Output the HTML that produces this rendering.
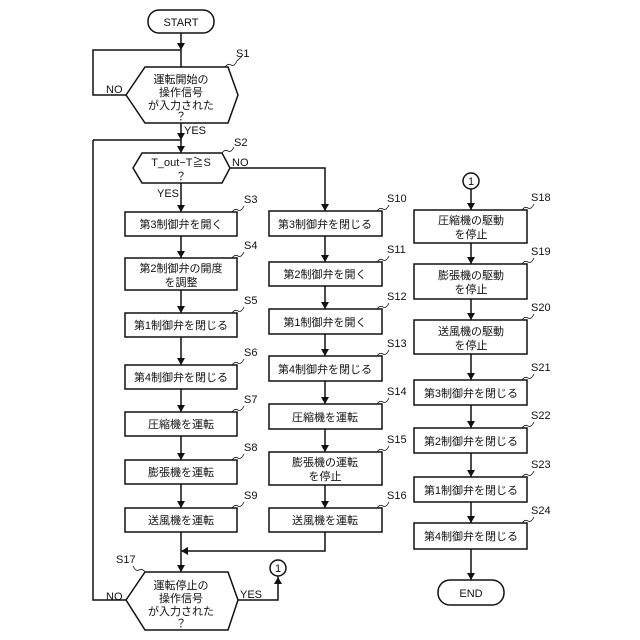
<!DOCTYPE html>
<html><head><meta charset="utf-8"><style>body{margin:0;background:#fff}svg{display:block}text{font-family:"Liberation Sans","Noto Sans CJK JP",sans-serif;font-size:11px;fill:#111}</style></head><body>
<svg width="640" height="640" viewBox="0 0 640 640" xmlns="http://www.w3.org/2000/svg">
<g stroke="#111" stroke-width="1.5" fill="none">
<rect x="148" y="10" width="66" height="23" rx="11" fill="#fff"/>
<path d="M126,95 L145,67 L228,67 L238,95 L228,123 L145,123 Z"/>
<path d="M133,168 L142,153 L222,153 L230,168 L222,183 L142,183 Z"/>
<path d="M126,600 L145,572 L228,572 L238,600 L228,630 L145,630 Z"/>
<rect x="125" y="212" width="112" height="24"/><rect x="125" y="258" width="112" height="32"/><rect x="125" y="313" width="112" height="24"/><rect x="125" y="365" width="112" height="24"/><rect x="125" y="412" width="112" height="24"/><rect x="125" y="460" width="112" height="24"/><rect x="125" y="508" width="112" height="24"/>
<rect x="269" y="211" width="113" height="25"/><rect x="269" y="262" width="113" height="24"/><rect x="269" y="309" width="113" height="25"/><rect x="269" y="356" width="113" height="25"/><rect x="269" y="404" width="113" height="25"/><rect x="269" y="452" width="113" height="33"/><rect x="269" y="508" width="113" height="24"/>
<rect x="414" y="210" width="113" height="33"/><rect x="414" y="264" width="113" height="35"/><rect x="414" y="320" width="113" height="34"/><rect x="414" y="380" width="113" height="25"/><rect x="414" y="428" width="113" height="25"/><rect x="414" y="477" width="113" height="25"/><rect x="414" y="523" width="113" height="26"/>
<rect x="438" y="580" width="66" height="25" rx="12"/>
<circle cx="471" cy="181" r="8"/><circle cx="278" cy="568" r="8"/>
<path d="M181,33V67M181,123V153M181,183V212M181,236V258M181,290V313M181,337V365M181,389V412M181,436V460M181,484V508M181,532V572"/>
<path d="M126,95H93V50H181M93,140V600H126M93,140H181M230,168H325V211"/>
<path d="M325,236V262M325,286V309M325,334V356M325,381V404M325,429V452M325,485V508M325,532V551H181"/>
<path d="M238,600H278V576"/>
<path d="M471,189V210M471,243V264M471,299V320M471,354V380M471,405V428M471,453V477M471,502V523M471,549V580"/>
</g>
<g fill="#111">
<path d="M177,43h8l-4,7z M177,146h8l-4,7z M177,205h8l-4,7z M177,251h8l-4,7z M177,306h8l-4,7z M177,358h8l-4,7z M177,405h8l-4,7z M177,453h8l-4,7z M177,501h8l-4,7z M177,565h8l-4,7z M177,133h8l-4,7z"/>
<path d="M321,204h8l-4,7z M321,255h8l-4,7z M321,302h8l-4,7z M321,349h8l-4,7z M321,397h8l-4,7z M321,445h8l-4,7z M321,501h8l-4,7z M181,551l7,-4v8z"/>
<path d="M467,203h8l-4,7z M467,257h8l-4,7z M467,313h8l-4,7z M467,373h8l-4,7z M467,421h8l-4,7z M467,470h8l-4,7z M467,516h8l-4,7z M467,573h8l-4,7z M274,584h8l-4,-7z"/>
</g>
<g stroke="#111" stroke-width="0.8" fill="none">
<path d="M225,67q3,-4 6,-2t6,-4q3,-3 5,-5"/><path d="M222,153q3,-4 6,-2t6,-4"/>
<path d="M232,212q3,-4 6,-2t6,-4"/><path d="M232,258q3,-4 6,-2t6,-4"/><path d="M232,313q3,-4 6,-2t6,-4"/><path d="M232,365q3,-4 6,-2t6,-4"/><path d="M232,412q3,-4 6,-2t6,-4"/><path d="M232,460q3,-4 6,-2t6,-4"/><path d="M232,508q3,-4 6,-2t6,-4"/>
<path d="M377,211q3,-4 6,-2t6,-4"/><path d="M377,262q3,-4 6,-2t6,-4"/><path d="M377,309q3,-4 6,-2t6,-4"/><path d="M377,356q3,-4 6,-2t6,-4"/><path d="M377,404q3,-4 6,-2t6,-4"/><path d="M377,452q3,-4 6,-2t6,-4"/><path d="M377,508q3,-4 6,-2t6,-4"/>
<path d="M522,210q3,-4 6,-2t6,-4"/><path d="M522,264q3,-4 6,-2t6,-4"/><path d="M522,320q3,-4 6,-2t6,-4"/><path d="M522,380q3,-4 6,-2t6,-4"/><path d="M522,428q3,-4 6,-2t6,-4"/><path d="M522,477q3,-4 6,-2t6,-4"/><path d="M522,523q3,-4 6,-2t6,-4"/>
<path d="M145,572q-3,-4 -6,-2t-6,-4"/>
</g>
<g text-anchor="middle">
<text x="181" y="26">START</text><text x="471" y="597">END</text>
<text x="181" y="83">運転開始の</text><text x="181" y="96">操作信号</text><text x="181" y="109">が入力された</text><text x="181" y="120">？</text>
<text x="181" y="166">T_out−T≧S</text><text x="181" y="180">？</text>
<text x="181" y="589">運転停止の</text><text x="181" y="602">操作信号</text><text x="181" y="615">が入力された</text><text x="181" y="627">？</text>
<text x="181" y="228">第3制御弁を開く</text><text x="181" y="272">第2制御弁の開度</text><text x="181" y="286">を調整</text><text x="181" y="329">第1制御弁を閉じる</text><text x="181" y="381">第4制御弁を閉じる</text><text x="181" y="428">圧縮機を運転</text><text x="181" y="476">膨張機を運転</text><text x="181" y="524">送風機を運転</text>
<text x="325" y="228">第3制御弁を閉じる</text><text x="325" y="278">第2制御弁を開く</text><text x="325" y="326">第1制御弁を開く</text><text x="325" y="373">第4制御弁を閉じる</text><text x="325" y="421">圧縮機を運転</text><text x="325" y="466">膨張機の運転</text><text x="325" y="480">を停止</text><text x="325" y="524">送風機を運転</text>
<text x="471" y="224">圧縮機の駆動</text><text x="471" y="238">を停止</text><text x="471" y="279">膨張機の駆動</text><text x="471" y="293">を停止</text><text x="471" y="335">送風機の駆動</text><text x="471" y="349">を停止</text><text x="471" y="397">第3制御弁を閉じる</text><text x="471" y="445">第2制御弁を閉じる</text><text x="471" y="494">第1制御弁を閉じる</text><text x="471" y="540">第4制御弁を閉じる</text>
<text x="471" y="185" font-size="10">1</text><text x="278" y="572" font-size="10">1</text>
</g>
<g>
<text x="106" y="93">NO</text><text x="184" y="134">YES</text><text x="232" y="166">NO</text><text x="157" y="197">YES</text><text x="106" y="600">NO</text><text x="240" y="598">YES</text>
<text x="236" y="57">S1</text><text x="234" y="146">S2</text><text x="244" y="203">S3</text><text x="244" y="249">S4</text><text x="244" y="304">S5</text><text x="244" y="356">S6</text><text x="244" y="403">S7</text><text x="244" y="451">S8</text><text x="244" y="499">S9</text>
<text x="387" y="202">S10</text><text x="387" y="253">S11</text><text x="387" y="300">S12</text><text x="387" y="347">S13</text><text x="387" y="395">S14</text><text x="387" y="443">S15</text><text x="387" y="499">S16</text>
<text x="531" y="201">S18</text><text x="531" y="255">S19</text><text x="531" y="311">S20</text><text x="531" y="371">S21</text><text x="531" y="419">S22</text><text x="531" y="468">S23</text><text x="531" y="514">S24</text>
<text x="116" y="563">S17</text>
</g>
</svg>
</body></html>
